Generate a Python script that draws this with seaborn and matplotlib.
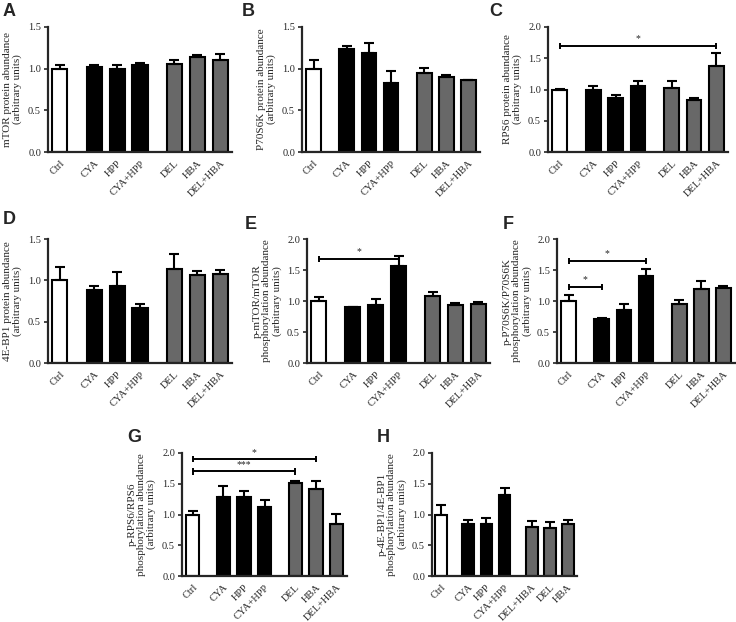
import numpy as np
import pandas as pd
import matplotlib
matplotlib.use("Agg")
import matplotlib.pyplot as plt
import seaborn as sns

# =====================================
# Data (mean and SEM)
# =====================================

labels = ["Ctrl", "CYA", "HPP", "CYA+HPP", "DEL", "HBA", "DEL+HBA"]
labels_h = ["Ctrl", "CYA", "HPP", "CYA+HPP", "DEL+HBA", "DEL", "HBA"]
groups = ["ctrl", "cya", "cya", "cya", "del", "del", "del"]
positions = [0, 1.5, 2.5, 3.5, 5, 6, 7]

mtor = [1.00, 1.02, 1.00, 1.04, 1.06, 1.14, 1.11]
mtor_err = [0.05, 0.03, 0.05, 0.03, 0.05, 0.02, 0.07]

p70 = [1.00, 1.24, 1.19, 0.83, 0.95, 0.90, 0.86]
p70_err = [0.11, 0.03, 0.12, 0.14, 0.06, 0.02, 0.01]

rps6 = [1.00, 1.00, 0.87, 1.06, 1.03, 0.84, 1.37]
rps6_err = [0.01, 0.06, 0.04, 0.07, 0.10, 0.02, 0.22]

ebp1 = [1.00, 0.88, 0.93, 0.67, 1.14, 1.07, 1.08]
ebp1_err = [0.16, 0.05, 0.17, 0.04, 0.18, 0.04, 0.05]

p_mtor = [1.00, 0.90, 0.94, 1.57, 1.08, 0.94, 0.95]
p_mtor_err = [0.07, 0.01, 0.09, 0.15, 0.06, 0.03, 0.03]

p_p70 = [1.00, 0.71, 0.86, 1.40, 0.95, 1.19, 1.21]
p_p70_err = [0.10, 0.02, 0.09, 0.12, 0.07, 0.14, 0.04]

p_rps6 = [1.00, 1.28, 1.28, 1.13, 1.51, 1.41, 0.85]
p_rps6_err = [0.05, 0.18, 0.11, 0.11, 0.04, 0.14, 0.16]

p_ebp1 = [1.00, 0.84, 0.84, 1.31, 0.80, 0.78, 0.84]
p_ebp1_err = [0.15, 0.07, 0.11, 0.12, 0.09, 0.09, 0.07]

# significance brackets: (start index, end index, height, stars)
sig_c = [(0, 6, 1.70, "*")]
sig_e = [(0, 3, 1.68, "*")]
sig_f = [(0, 3, 1.65, "*"), (0, 1, 1.23, "*")]
sig_g = [(0, 5, 1.90, "*"), (0, 4, 1.70, "***")]

palette = {"ctrl": "white", "cya": "black", "del": "#686868"}

# =====================================
# Setup
# =====================================

sns.set_style("ticks")
plt.rcParams["font.family"] = ["Liberation Serif", "DejaVu Serif"]

W, H = 736, 622
fig = plt.figure(figsize=(W / 100, H / 100), dpi=100)


def make_axes(left, top, right, bottom):
    return fig.add_axes([left / W, 1 - bottom / H, (right - left) / W, (bottom - top) / H])


def panel(rect, vals, errs, ylabel, ymax, tick_labels=labels, sigs=()):
    ax = make_axes(*rect)
    df = pd.DataFrame({"pos": positions, "val": vals, "grp": groups})
    sns.barplot(
        data=df, x="pos", y="val", hue="grp", palette=palette,
        native_scale=True, dodge=False, legend=False, width=0.66,
        edgecolor="black", linewidth=1.5, errorbar=None, ax=ax,
    )
    ax.errorbar(
        positions, vals, yerr=[np.zeros(len(vals)), errs], fmt="none",
        ecolor="black", elinewidth=1.5, capsize=3.8, capthick=1.5, zorder=1,
    )
    for i, j, y, stars in sigs:
        x1, x2 = positions[i], positions[j]
        ax.plot([x1, x2], [y, y], color="black", lw=1.4, clip_on=False)
        ax.vlines([x1, x2], y - 0.05 * ymax / 2, y + 0.05 * ymax / 2,
                  color="black", lw=1.4, clip_on=False)
        ax.text((x1 + x2) / 2, y + 0.02 * ymax, stars, ha="center", va="bottom",
                fontsize=7)

    ax.set_xlim(-0.52, 7.52)
    ax.set_ylim(0, ymax)
    ticks = np.arange(0, ymax + 0.01, 0.5)
    ax.set_yticks(ticks)
    ax.set_yticklabels([f"{t:.1f}" for t in ticks])
    ax.set_xticks(positions)
    ax.set_xticklabels(tick_labels, rotation=45, ha="right", rotation_mode="anchor")
    ax.tick_params(axis="both", labelsize=7.5, length=3, width=1.2, pad=2)
    ax.tick_params(axis="x", length=0, pad=5)
    ax.set_xlabel("")
    ax.set_ylabel(ylabel, fontsize=8, linespacing=1.1, labelpad=4)
    sns.despine(ax=ax)
    for s in ["left", "bottom"]:
        ax.spines[s].set_linewidth(1.6)
    return ax


# =====================================
# Panels
# =====================================

panel((48, 27, 232, 152), mtor, mtor_err,
      "mTOR protein abundance\n(arbitrary units)", 1.5)
panel((302, 27, 480, 152), p70, p70_err,
      "P70S6K protein abundance\n(arbitrary units)", 1.5)
panel((548, 27, 728, 152), rps6, rps6_err,
      "RPS6 protein abundance\n(arbitrary units)", 2.0, sigs=sig_c)

panel((48, 239, 232, 363), ebp1, ebp1_err,
      "4E-BP1 protein abundance\n(arbitrary units)", 1.5)
panel((307, 239, 490, 363), p_mtor, p_mtor_err,
      "p-mTOR/mTOR\nphosphorylation abundance\n(arbitrary units)", 2.0, sigs=sig_e)
panel((557, 239, 735, 363), p_p70, p_p70_err,
      "p-P70S6K/P70S6K\nphosphorylation abundance\n(arbitrary units)", 2.0, sigs=sig_f)

panel((182, 453, 347, 576), p_rps6, p_rps6_err,
      "p-RPS6/RPS6\nphosphorylation abundance\n(arbitrary units)", 2.0, sigs=sig_g)
panel((432, 453, 577, 576), p_ebp1, p_ebp1_err,
      "p-4E-BP1/4E-BP1\nphosphorylation abundance\n(arbitrary units)", 2.0,
      tick_labels=labels_h)

# panel letters
letters = [("A", 3, 3), ("B", 242, 3), ("C", 489, 3),
           ("D", 3, 211), ("E", 245, 216), ("F", 503, 216),
           ("G", 127, 429), ("H", 377, 429)]
for letter, x, y in letters:
    fig.text(x / W, 1 - y / H, letter, fontsize=13, fontweight="bold",
             family=["Liberation Sans", "DejaVu Sans"], va="top", ha="left")

fig.savefig("out.png", dpi=100)
